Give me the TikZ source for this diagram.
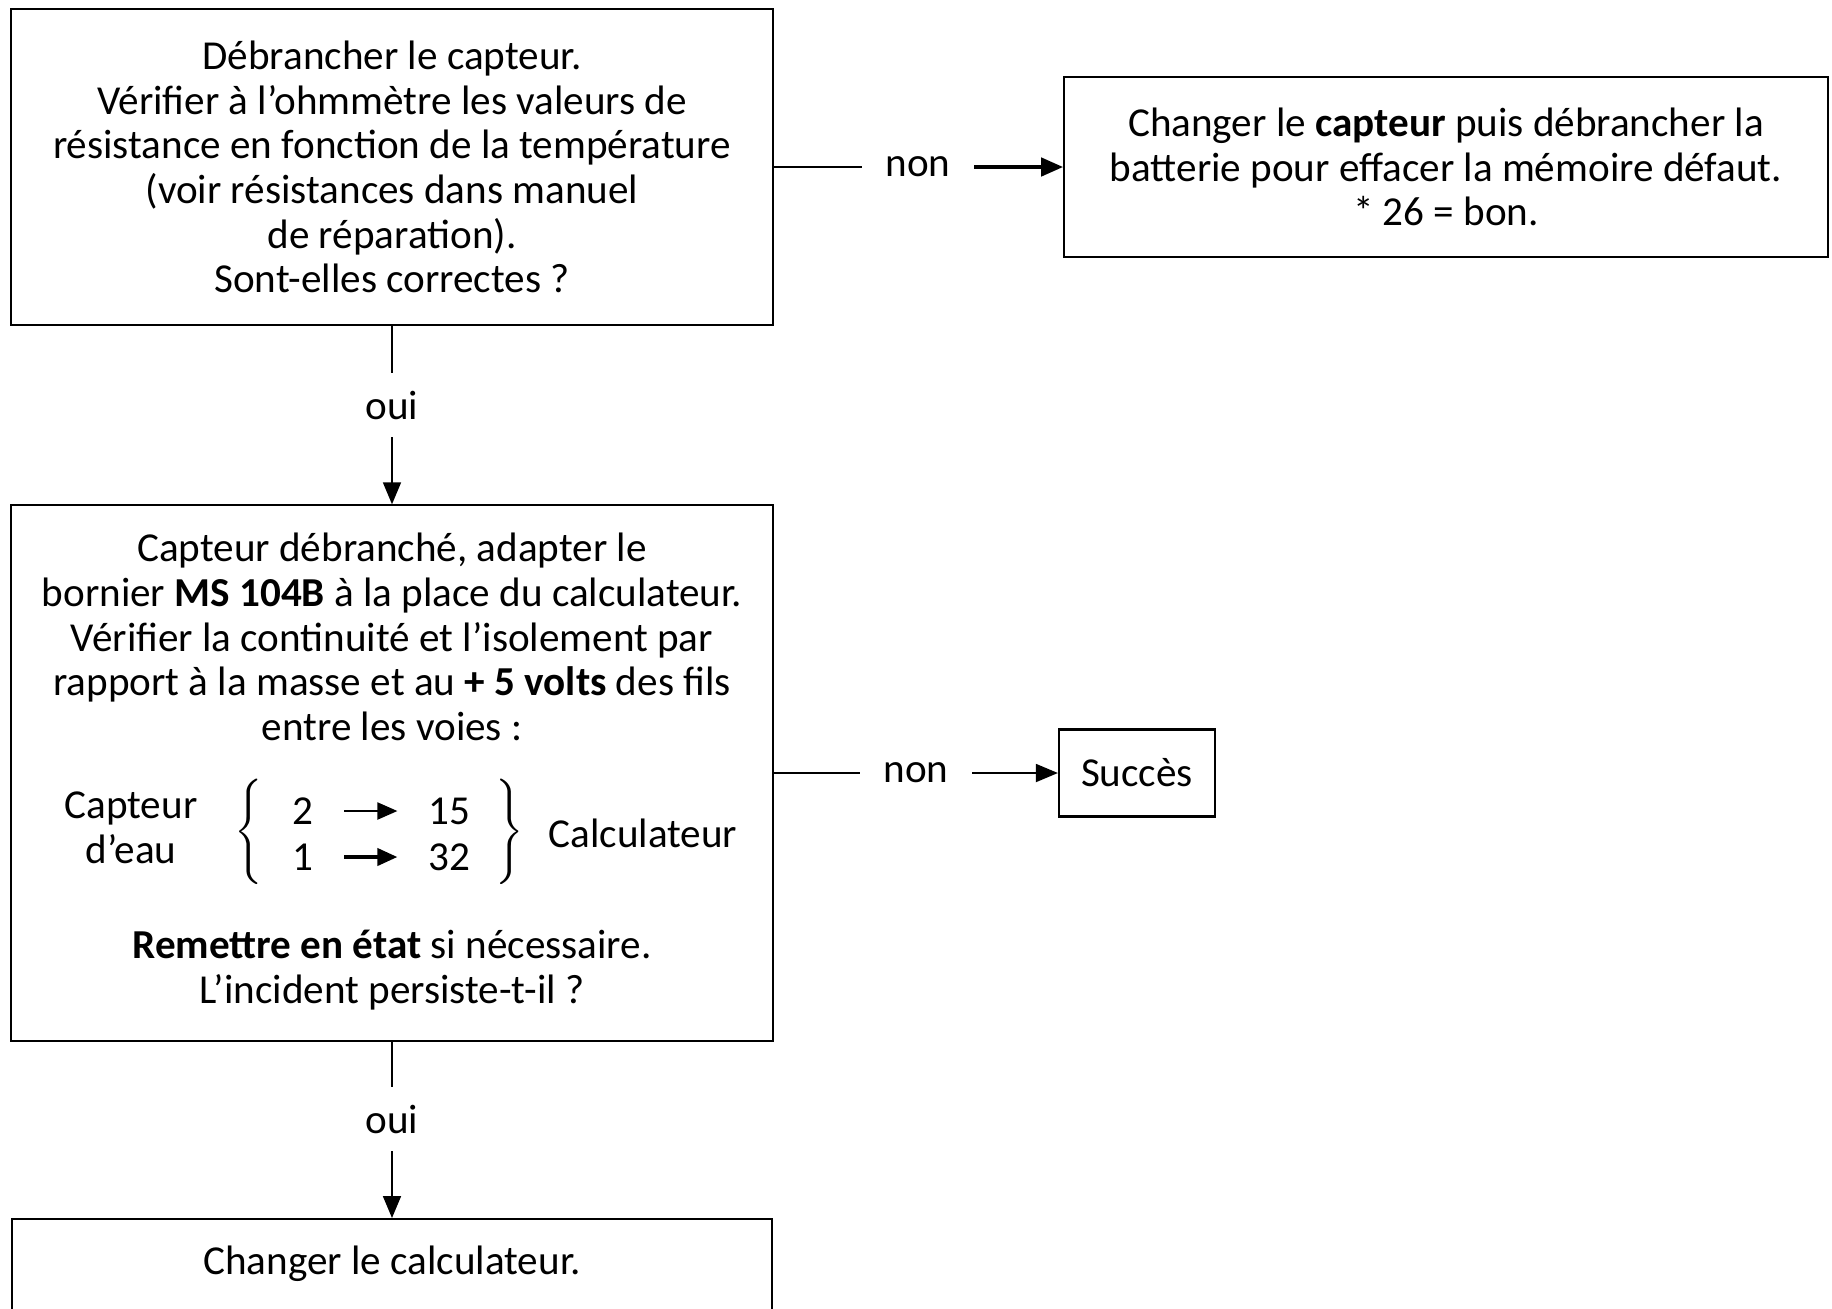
\documentclass[tikz,border=0pt]{standalone}
\usepackage{fontspec}
\setmainfont{Carlito}
\usetikzlibrary{arrows.meta}

\tikzset{
  box/.style={draw, line width=0.6pt, align=center, inner sep=0pt},
  lbl/.style={inner xsep=0.23cm, inner ysep=0.17cm},
  link/.style={line width=0.5pt},
  arr/.style={line width=0.5pt, -{Triangle[length=0.22cm, width=0.18cm]}},
  pinarr/.style={line width=0.6pt, shorten <=0.3cm, shorten >=0.3cm, -{Triangle[length=0.2cm, width=0.17cm]}},
}

\begin{document}
\begin{tikzpicture}[x=0.01cm, y=-0.01cm, font=\fontsize{11.7}{12.7}\selectfont]
  \useasboundingbox (0,0) rectangle (1832,1308);

  \node[box, minimum width=7.62cm, minimum height=3.15cm] (check) at (392,167)
    {Débrancher le capteur.\\ Vérifier à l’ohmmètre les valeurs de\\ résistance en fonction de la température\\
     (voir résistances dans manuel\\ de réparation).\\ Sont-elles correctes ?};
  \node[box, minimum width=7.63cm, minimum height=1.8cm] (replace) at (1446,167)
    {Changer le \textbf{capteur} puis débrancher la\\ batterie pour effacer la mémoire défaut.\\ * 26 = bon.};

  \node[box, minimum width=7.62cm, minimum height=5.35cm] (wiring) at (392,773) {};
  \node[align=center] (wiringtop) at (392,637)
    {Capteur débranché, adapter le\\ bornier \textbf{MS 104B} à la place du calculateur.\\
     Vérifier la continuité et l’isolement par\\ rapport à la masse et au \textbf{+ 5 volts} des fils\\ entre les voies :};
  \node[align=center] (sensor) at (131,828) {Capteur\\ d’eau};
  \node (lbrace) at (251,832) {$\left\{\vcenter{\hbox{\rule{0pt}{1.04cm}}}\right.$};
  \node[inner sep=0pt] (p2) at (303,811) {2};
  \node[inner sep=0pt] (p15) at (449,811) {15};
  \node[inner sep=0pt] (p1) at (303,857) {1};
  \node[inner sep=0pt] (p32) at (449,857) {32};
  \node (rbrace) at (508,832) {$\left.\vcenter{\hbox{\rule{0pt}{1.04cm}}}\right\}$};
  \node (ecu) at (643,833) {Calculateur};
  \draw[pinarr] (p2) -- (p15);
  \draw[pinarr, line width=1.1pt] (p1) -- (p32);
  \node[align=center] (wiringbot) at (392,970)
    {\textbf{Remettre en état} si nécessaire.\\ L’incident persiste-t-il ?};

  \node[box, minimum width=1.56cm, minimum height=0.87cm] (ok) at (1137,773) {Succès};

  \node[box, minimum width=7.6cm, minimum height=2cm, anchor=north] (swap) at (392,1218) {};
  \node (swaptxt) at (392,1264) {Changer le calculateur.};

  \node[lbl] (non1) at (918,167) {non};
  \node[lbl] (oui1) at (392,405) {oui};
  \node[lbl] (non2) at (916,773) {non};
  \node[lbl] (oui2) at (392,1119) {oui};

  \draw[link] (check) -- (non1);
  \draw[arr, line width=1.2pt] (non1) -- (replace);
  \draw[link] (check) -- (oui1);
  \draw[arr] (oui1) -- (wiring);
  \draw[link] (wiring) -- (non2);
  \draw[arr] (non2) -- (ok);
  \draw[link] (wiring) -- (oui2);
  \draw[arr] (oui2) -- (swap);
\end{tikzpicture}
\end{document}
